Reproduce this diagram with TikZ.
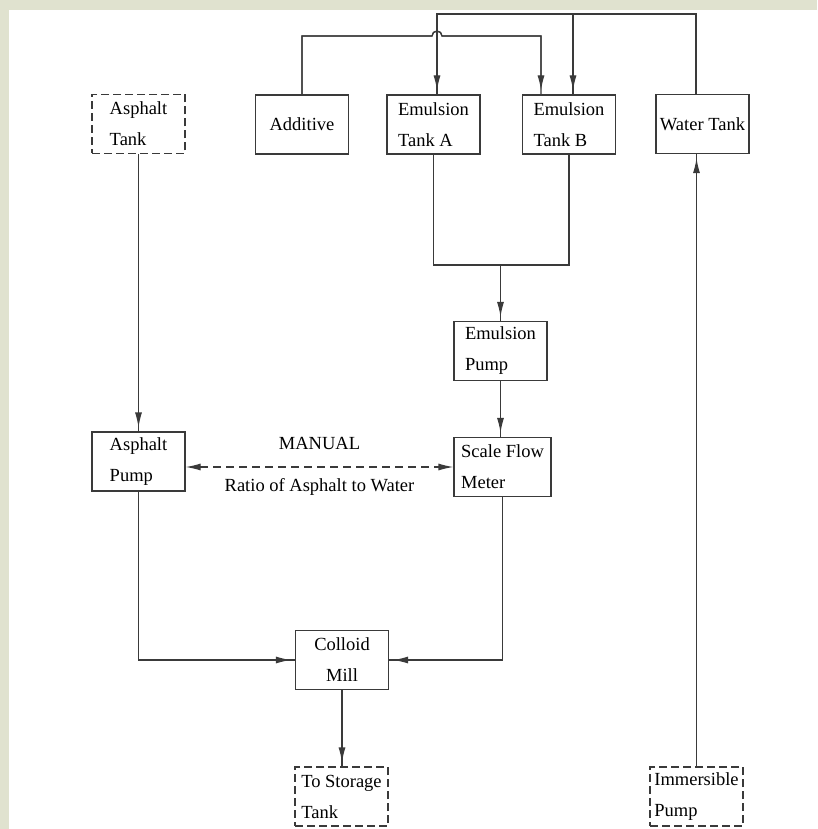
\documentclass[tikz,border=0pt]{standalone}
\usepackage{fontspec}
\setmainfont{Liberation Serif}
\usetikzlibrary{arrows.meta}

\definecolor{panel}{HTML}{E0E2CF}
\definecolor{ink}{HTML}{3A3A3A}

\tikzset{
	every node/.style={font=\fontsize{18.5}{31}\selectfont, inner sep=2pt},
	unit/.style={draw=ink, line width=1.2pt, minimum width=93pt, minimum height=59pt, align=left},
	extbox/.style={unit, dash pattern=on 8pt off 4pt},
	feed/.style={draw=ink, line width=1.2pt, postaction={draw=ink, shorten >=4pt, -{Latex[length=15pt,width=7pt]}}},
	ratioline/.style={draw=ink, line width=1.2pt, dash pattern=on 8pt off 5pt, {Latex[length=15pt,width=7pt]}-{Latex[length=15pt,width=7pt]}}
}

\begin{document}
\begin{tikzpicture}[x=1pt, y=-1pt]
			\useasboundingbox (0,0) rectangle (817,829);
			\fill[panel] (0,0) rectangle (817,829);
			\fill[white] (9,10) rectangle (817,829);

			\node[extbox] (atank) at (138.5,124) {Asphalt\\Tank};
			\node[unit] (additive) at (302,124.5) {Additive};
			\node[unit] (tanka) at (433.5,124.5) {Emulsion\\Tank A};
			\node[unit] (tankb) at (569,124.5) {Emulsion\\Tank B};
			\node[unit] (water) at (702.5,124) {Water Tank};
			\node[unit] (epump) at (500.5,351) {Emulsion\\Pump};
			\node[unit] (apump) at (138.5,461.5) {Asphalt\\Pump};
			\node[unit, minimum width=97pt] (meter) at (502.5,467) {Scale Flow\\Meter};
			\node[unit, align=center] (mill) at (342,660) {Colloid\\Mill};
			\node[extbox] (storage) at (341.5,796.5) {To Storage\\Tank};
			\node[extbox] (pump) at (696.5,796.5) {Immersible\\Pump};

			\coordinate (ina) at ([xshift=3.5pt]tanka.north);
			\coordinate (inb1) at ([xshift=-28pt]tankb.north);
			\coordinate (inb2) at ([xshift=4pt]tankb.north);
			\coordinate (inw) at ([xshift=-6.5pt]water.north);
			\coordinate (hop) at (ina |- 0,36);
			\coordinate (join) at (epump.north |- 0,265);

			% water and additive feed to the emulsion tanks
			\draw[feed] (inw) |- (ina |- 0,14) -- (ina);
			\draw[feed] (inb2 |- 0,14) -- (inb2);
			\draw[feed] (additive.north) |- ([xshift=-5pt]hop) arc[start angle=180, end angle=0, radius=5pt] -| (inb1);

			\draw[draw=ink, line width=1.2pt] (tanka.south) |- (join) -| (tankb.south);
			\draw[feed] (join) -- (epump.north);
			\draw[feed] (epump.south) -- (epump.south |- meter.north);
			\draw[feed] (atank.south) -- (apump.north);
			\draw[feed] (apump.south) |- (mill.west);
			\draw[feed] (meter.south) |- (mill.east);
			\draw[feed] (mill.south) -- (mill.south |- storage.north);
			\draw[feed] (pump.north) -- (pump.north |- water.south);

			\draw[ratioline] (meter.west -| apump.east) -- node[above=15pt] (manual) {MANUAL} node[below=9pt] (ratio) {Ratio of Asphalt to Water} (meter.west);
\end{tikzpicture}
\end{document}
